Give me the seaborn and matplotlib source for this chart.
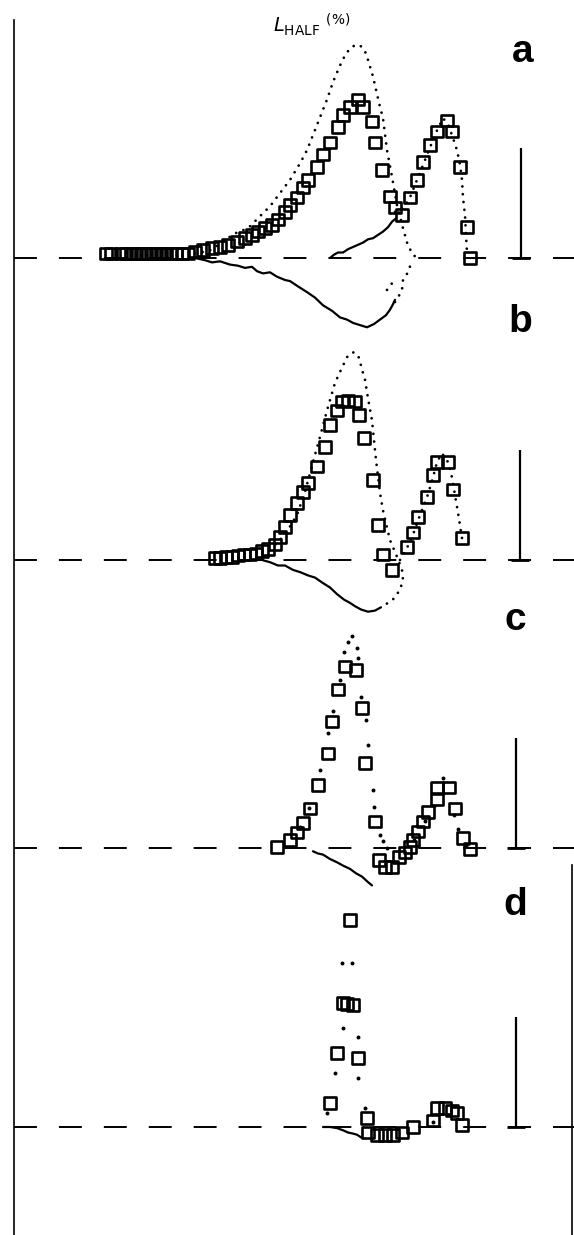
import matplotlib
matplotlib.use("Agg")
import matplotlib.pyplot as plt
import seaborn as sns

sns.set_style("white")
plt.rcParams["font.family"] = ["Liberation Sans", "DejaVu Sans"]
plt.rcParams["mathtext.fontset"] = "dejavusans"
plt.rcParams["text.color"] = "black"

# ---------------- data (x: position units, y: L_HALF in %) ----------------
panel_labels = ["a", "b", "c", "d"]

sq_a_x = [106, 111, 121, 126, 131, 136, 141, 146, 151, 156, 161, 166, 171, 176, 182, 188,
          195, 203, 212, 220, 228, 237, 245, 252, 258, 265, 272, 278, 285, 290, 297, 303, 308,
          317, 323, 330, 338, 343, 350, 358, 363, 372, 375, 382, 390, 395, 402, 410, 417, 423,
          430, 437, 447, 452, 460, 467, 470]
sq_a_y = [0.4] * 16 + [0.6, 0.7, 0.9, 1.0, 1.2, 1.5, 1.8, 2.1, 2.4, 2.7, 3.0, 3.5, 4.2, 4.8, 5.5,
                       6.4, 7.1, 8.3, 9.4, 10.5, 11.9, 13.0, 13.7, 14.4, 13.7, 12.4, 10.5, 8.0, 5.6,
                       4.6, 3.9, 5.5, 7.1, 8.7, 10.3, 11.5, 12.5, 11.5, 8.3, 2.8, 0.0]
dot_a1_x = [195, 210, 222, 234, 248, 260, 270, 280, 290, 300, 307, 317, 327, 333, 340, 346, 352,
            357, 362, 366, 373, 379, 383, 387, 392, 397, 403, 408, 414, 421]
dot_a1_y = [0.4, 0.7, 1.4, 2.2, 2.7, 3.8, 4.7, 5.9, 7.1, 8.6, 9.8, 12.1, 14.4, 16.0, 17.5, 18.6,
            19.2, 19.4, 19.2, 18.6, 16.5, 14.1, 12.7, 9.8, 7.4, 4.8, 2.7, 1.1, 0.2, 0.0]
dot_a2_x = [395, 403, 410, 417, 425, 432, 437, 443, 448, 453, 457, 460, 462, 463, 465, 466, 467]
dot_a2_y = [4.2, 4.5, 5.5, 7.1, 8.9, 10.5, 11.6, 12.7, 12.2, 10.9, 9.8, 8.5, 7.1, 5.5, 3.9, 2.1, 0.5]
dot_a3_x = [395, 398, 402, 403, 408, 411]
dot_a3_y = [-4.0, -3.6, -2.9, -2.0, -1.3, -0.5]
dot_a4_x = [387, 392]
dot_a4_y = [-2.9, -2.3]
trace_a1_x = [195, 205, 212, 220, 230, 238, 245, 252, 257, 263, 270, 277, 285, 290, 295, 300, 307,
              315, 323, 332, 340, 347, 353, 360, 367, 374, 380, 386, 390, 393, 395]
trace_a1_y = [0.0, -0.2, -0.4, -0.3, -0.6, -0.7, -0.9, -0.8, -1.2, -1.4, -1.3, -1.7, -2.0, -2.1,
              -2.4, -2.7, -3.1, -3.6, -4.3, -4.8, -5.4, -5.6, -5.9, -6.1, -6.3, -6.0, -5.6, -5.2,
              -4.7, -4.2, -3.8]
trace_a2_x = [330, 334, 338, 343, 348, 353, 358, 363, 368, 373, 378, 383, 388, 392, 396]
trace_a2_y = [0.0, 0.3, 0.5, 0.5, 0.8, 1.0, 1.2, 1.4, 1.7, 1.8, 2.1, 2.4, 2.8, 3.3, 3.6]

sq_b_x = [215, 220, 226, 232, 238, 244, 250, 256, 262, 268, 275, 280, 285, 290, 297, 303, 308, 317,
          325, 330, 337, 342, 348, 355, 359, 364, 373, 378, 383, 392, 407, 413, 418, 427, 433, 437,
          448, 453, 462]
sq_b_y = [0.2, 0.2, 0.3, 0.3, 0.4, 0.5, 0.5, 0.6, 0.8, 1.0, 1.4, 2.1, 3.0, 4.1, 5.2, 6.2, 7.0, 8.5,
          10.3, 12.3, 13.6, 14.4, 14.5, 14.4, 13.2, 11.1, 7.3, 3.2, 0.5, -0.9, 1.2, 2.5, 3.9, 5.7,
          7.7, 8.9, 8.9, 6.4, 2.0]
dot_b1_x = [270, 285, 297, 305, 313, 320, 327, 335, 342, 348, 354, 359, 362, 365, 368, 372, 376,
            380, 383, 390, 397, 402, 403, 400, 394, 388, 381]
dot_b1_y = [0.9, 2.3, 4.1, 6.2, 8.9, 11.2, 13.6, 16.1, 17.5, 18.6, 18.9, 18.4, 17.3, 16.4, 14.7,
            12.7, 9.1, 6.1, 4.5, 1.8, 0.3, -0.9, -1.8, -2.7, -3.5, -3.9, -4.3]
dot_b2_x = [400, 407, 413, 418, 427, 433, 437, 442, 448, 452, 458, 462]
dot_b2_y = [0.0, 1.1, 2.3, 3.6, 5.7, 7.5, 8.9, 9.7, 8.9, 7.5, 4.3, 2.0]
trace_b_x = [262, 270, 278, 285, 293, 300, 308, 315, 323, 330, 337, 344, 350, 355, 361, 368, 375, 381]
trace_b_y = [0.0, -0.2, -0.5, -0.5, -0.9, -1.1, -1.4, -1.6, -2.1, -2.5, -3.1, -3.6, -3.9, -4.2,
             -4.5, -4.7, -4.6, -4.3]

sq_c_x = [277, 290, 297, 303, 310, 318, 328, 332, 338, 345, 356, 362, 365, 375, 379, 385, 392, 399,
          405, 410, 413, 418, 423, 428, 437, 437, 449, 455, 463, 470]
sq_c_y = [0.1, 0.7, 1.4, 2.3, 3.6, 5.7, 8.6, 11.5, 14.4, 16.5, 16.2, 12.7, 7.7, 2.4, -1.1, -1.7,
          -1.7, -0.8, -0.4, 0.1, 0.7, 1.5, 2.4, 3.3, 4.4, 5.5, 5.5, 3.6, 0.9, -0.1]
dot_c_x = [300, 309, 320, 328, 333, 340, 344, 348, 352, 357, 358, 361, 366, 368, 373, 374, 380, 383,
           387, 414, 425, 434, 443, 454, 458, 466]
dot_c_y = [1.9, 3.6, 7.1, 10.5, 12.5, 15.3, 17.8, 18.7, 19.3, 18.2, 17.3, 13.7, 11.6, 9.4, 5.3,
           3.7, 1.2, 0.6, 0.0, 0.7, 2.5, 3.8, 6.4, 3.0, 1.7, 0.2]
trace_c_x = [313, 318, 323, 330, 337, 343, 350, 356, 362, 368, 372]
trace_c_y = [-0.3, -0.5, -0.6, -1.0, -1.3, -1.6, -1.9, -2.3, -2.6, -3.1, -3.4]

sq_d_x = [350, 343, 347, 353, 337, 358, 330, 367, 368, 377, 385, 393, 402, 413, 433, 437, 445, 452,
          457, 462]
sq_d_y = [18.8, 11.3, 11.2, 11.1, 6.7, 6.3, 2.2, 0.8, -0.5, -0.7, -0.7, -0.7, -0.5, 0.0, 0.6, 1.7,
          1.7, 1.5, 1.3, 0.2]
dot_d_x = [342, 352, 343, 358, 335, 358, 365, 327, 433]
dot_d_y = [14.9, 14.9, 9.0, 8.2, 4.9, 4.5, 1.7, 1.3, 0.5]
trace_d_x = [323, 330, 337, 343, 348, 353, 357, 362]
trace_d_y = [0.0, 0.0, -0.1, -0.3, -0.5, -0.6, -0.7, -1.0]

scale_bar_value = 10.0  # % represented by the vertical bar in each panel

# ---------------- layout ----------------
W, H = 574, 1235
PX_PER_UNIT = 11.0
baselines_px = [258, 560, 848, 1127]
bar_x = [521, 520, 516, 516]
letter_pos = [(523, 52), (520, 322), (515, 620), (515, 905)]

fig = plt.figure(figsize=(W / 100, H / 100), dpi=100)

# frame lines
frame = fig.add_axes([14 / W, 0, (572 - 14) / W, (H - 20) / H])
frame.set_xlim(0, 1)
frame.set_ylim(0, H - 20)
frame.set_xticks([])
frame.set_yticks([])
frame.patch.set_alpha(0)
for s in ["top", "bottom"]:
    frame.spines[s].set_visible(False)
for s in ["left", "right"]:
    frame.spines[s].set_linewidth(1.2)
    frame.spines[s].set_color("black")
frame.spines["right"].set_bounds(0, H - 865)

panels = [
    dict(sq=(sq_a_x, sq_a_y), lines=[(dot_a1_x, dot_a1_y), (dot_a2_x, dot_a2_y), (dot_a3_x, dot_a3_y), (dot_a4_x, dot_a4_y)],
         dots=None, traces=[(trace_a1_x, trace_a1_y), (trace_a2_x, trace_a2_y)]),
    dict(sq=(sq_b_x, sq_b_y), lines=[(dot_b1_x, dot_b1_y), (dot_b2_x, dot_b2_y)],
         dots=None, traces=[(trace_b_x, trace_b_y)]),
    dict(sq=(sq_c_x, sq_c_y), lines=[], dots=(dot_c_x, dot_c_y), traces=[(trace_c_x, trace_c_y)]),
    dict(sq=(sq_d_x, sq_d_y), lines=[], dots=(dot_d_x, dot_d_y), traces=[(trace_d_x, trace_d_y)]),
]

for i, p in enumerate(panels):
    base = baselines_px[i]
    ax = fig.add_axes([0, 0, 1, 1])
    ax.set_xlim(0, W)
    ax.set_ylim((base - H) / PX_PER_UNIT, base / PX_PER_UNIT)
    ax.axis("off")
    ax.patch.set_alpha(0)

    # dashed zero line
    ax.axhline(0, xmin=14 / W, xmax=1, color="black", lw=1.4, ls=(0, (11.8, 11.3)), zorder=1)

    # dotted model curves
    for lx, ly in p["lines"]:
        sns.lineplot(x=lx, y=ly, sort=False, estimator=None, color="black", lw=2.0,
                     linestyle=(0, (0.01, 2.8)), dash_capstyle="round", ax=ax, zorder=2)
    if p["dots"] is not None:
        sns.scatterplot(x=p["dots"][0], y=p["dots"][1], marker="o", s=8, color="black",
                        linewidth=0, ax=ax, zorder=2)
    # noisy traces
    for tx, ty in p["traces"]:
        sns.lineplot(x=tx, y=ty, sort=False, estimator=None, color="black", lw=1.6, ax=ax, zorder=2)

    # squares
    sns.scatterplot(x=p["sq"][0], y=p["sq"][1], marker="s", s=72, ax=ax, zorder=3)
    coll = ax.collections[-1]
    coll.set_facecolor("none")
    coll.set_edgecolor("black")
    coll.set_linewidth(1.9)

    # scale bar
    ax.vlines(bar_x[i], 0, scale_bar_value, color="black", lw=1.6)
    ax.hlines(0, bar_x[i] - 9, bar_x[i] + 9, color="black", lw=2.0)

    lx, ly = letter_pos[i]
    fig.text(lx / W, 1 - ly / H, panel_labels[i], ha="center", va="center", fontsize=28,
             fontweight="bold")

fig.text(312 / W, 1 - 25 / H, r"$L_{\mathrm{HALF}}\ {}^{(\%)}$", ha="center", va="center",
         fontsize=14)

fig.savefig("out.png", dpi=100, facecolor="white")
